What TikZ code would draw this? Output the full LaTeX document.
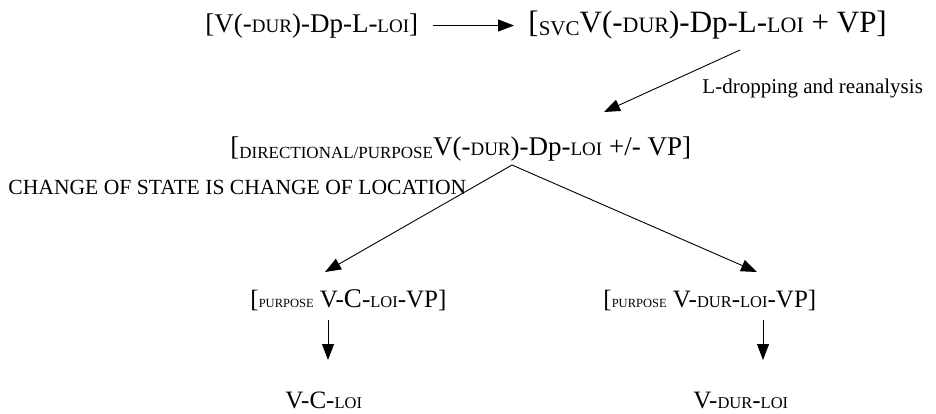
\documentclass[tikz,border=0pt]{standalone}
\usepackage{fontspec}
\setmainfont{Liberation Serif}
\usetikzlibrary{arrows.meta}

% fake small capitals at a given size
\newcommand{\smc}[2][19]{{\fontsize{#1}{#1}\selectfont #2}}
\newcommand{\lowsmc}[2][18]{\raisebox{-3pt}{\smc[#1]{#2}}}

\begin{document}
\begin{tikzpicture}[x=1pt,y=-1pt,
    >={Triangle[length=16pt,width=12pt]},
    line width=0.9pt,
    big/.style={inner sep=0pt, anchor=base west, font=\fontsize{27}{27}\selectfont},
    bigger/.style={inner sep=0pt, anchor=base west, font=\fontsize{31}{31}\selectfont},
    mid/.style={inner sep=0pt, anchor=base west, font=\fontsize{25}{25}\selectfont},
    note/.style={inner sep=0pt, anchor=base west, font=\fontsize{21}{21}\selectfont}]
    \useasboundingbox (0,0) rectangle (936,413);

    % first row
    \node[big] (orig) at (205,32) {[V(-\smc{DUR})-Dp-L-\smc{LOI}]};
    \node[bigger] (svc) at (528,32) {[\lowsmc[21]{SVC}V(-\smc[22]{DUR})-Dp-L-\smc[22]{LOI} + VP]};

    % reanalysed form
    \node[big] (dir) at (230,155) {[\lowsmc[17]{DIRECTIONAL/PURPOSE}V(-\smc{DUR})-Dp-\smc{LOI} +/- VP]};
    \node[note] (drop) at (702,93) {L-dropping and reanalysis};
    \node[note, font=\fontsize{21.6}{21.6}\selectfont] (meta) at (8,194) {CHANGE OF STATE IS CHANGE OF LOCATION};

    % purpose forms
    \node[mid] (purc) at (250,307) {[\smc[12.5]{PURPOSE} V-{\fontsize{27}{27}\selectfont C}-\smc[16.5]{LOI}-VP]};
    \node[mid] (purd) at (603,307) {[\smc[12.5]{PURPOSE} V-\smc[16.5]{DUR}-\smc[16.5]{LOI}-VP]};

    % results
    \node[mid] (vc) at (285,408) {V-C-\smc[16.5]{LOI}};
    \node[mid] (vdur) at (693,408) {V-\smc[16.5]{DUR}-\smc[16.5]{LOI}};

    % arrows
    \draw[->, shorten <=14pt, shorten >=14pt] (orig.east) -- (orig.east -| svc.west);
    \draw[->] ([xshift=212pt,yshift=-18pt]svc.base west) -- ([xshift=374pt,yshift=43pt]dir.base west);
    \draw[->] ([xshift=282pt,yshift=-10pt]dir.base west) -- ([xshift=75pt,yshift=35pt]purc.base west);
    \draw[->] ([xshift=282pt,yshift=-10pt]dir.base west) -- ([xshift=154pt,yshift=35pt]purd.base west);
    \draw[->] ([xshift=78pt,yshift=-13pt]purc.base west) -- ([xshift=43pt,yshift=48pt]vc.base west);
    \draw[->] ([xshift=160pt,yshift=-13pt]purd.base west) -- ([xshift=70pt,yshift=48pt]vdur.base west);
\end{tikzpicture}
\end{document}
